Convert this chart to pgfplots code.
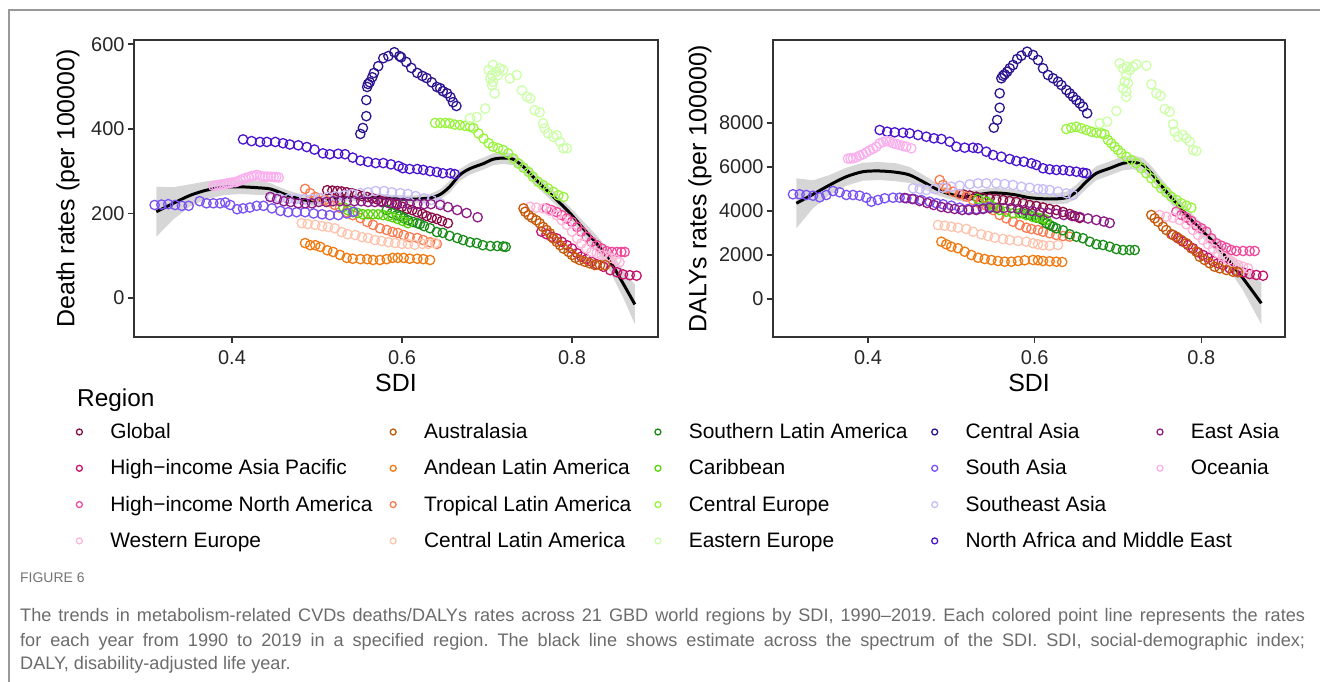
\documentclass[border=0pt]{standalone}
\usepackage{fontspec}
\setmainfont{Liberation Sans}
\usepackage{pgfplots}
\pgfplotsset{compat=1.18}
\frenchspacing
\definecolor{cGL}{HTML}{8B0D45}
\definecolor{cHIAP}{HTML}{C4136A}
\definecolor{cHINA}{HTML}{F0489B}
\definecolor{cWE}{HTML}{FFB6D9}
\definecolor{cAUS}{HTML}{C45A0A}
\definecolor{cAND}{HTML}{F07A10}
\definecolor{cTRO}{HTML}{F97B4F}
\definecolor{cCLA}{HTML}{FFC4AE}
\definecolor{cSLA}{HTML}{1A8C1A}
\definecolor{cCAR}{HTML}{5AD20C}
\definecolor{cCE}{HTML}{9AF43F}
\definecolor{cEE}{HTML}{CCFFA8}
\definecolor{cCA}{HTML}{2E1590}
\definecolor{cSA}{HTML}{7A52F4}
\definecolor{cSEA}{HTML}{C8BCF8}
\definecolor{cNAME}{HTML}{4A14CF}
\definecolor{cEA}{HTML}{8B1C86}
\definecolor{cOCE}{HTML}{FBB0EE}
\pgfplotsset{
  pt/.style={only marks, mark=o, mark size=4.7pt, mark options={line width=1.3pt, solid}, color=#1},
  lg/.style={only marks, mark=o, mark size=3pt, mark options={line width=1.3pt}, color=#1},
  panel/.style={scale only axis, height=297bp, anchor=south west,
    axis line style={line width=2pt, draw=black!80},
    tick style={line width=1.6pt, draw=black!80},
    tick align=outside, tick pos=left, major tick length=6bp,
    ticklabel style={font=\fontsize{20}{24}\selectfont, text=black!85},
    xticklabel style={yshift=-4bp},
    /pgf/number format/assume math mode=true, /pgf/number format/1000 sep={},
    scaled ticks=false,
    xtick={0.4,0.6,0.8}, xticklabels={0.4,0.6,0.8},
    label style={font=\fontsize{25}{30}\selectfont},
    xlabel={SDI},
    xlabel style={at={(axis description cs:0.5,0)}, anchor=center, yshift=-46bp},
  },
  band/.style={draw=none, fill=black!40, fill opacity=0.4},
  fit/.style={black, line width=3pt, smooth, tension=0.5},
}
\begin{document}
\begin{tikzpicture}
\path[use as bounding box] (0,0) rectangle (1320bp,682bp);
\draw[black!40, line width=1.2pt] (9bp,0bp) -- (9bp,672bp) -- (1320bp,672bp);

% ---------------- LEFT PANEL ----------------
\begin{axis}[panel, at={(134bp,345bp)}, width=524bp,
  xmin=0.2847, xmax=0.9012, ymin=-92, ymax=610, ytick={0,200,400,600},
  ylabel={Death rates (per 100000)},
  ylabel style={at={(axis description cs:-0.126,0.5)}, anchor=center}]
\addplot[pt=cGL] coordinates {(0.512,255)(0.518,254)(0.524,253)(0.529,252)(0.535,250)(0.541,248)(0.547,245)(0.553,241)(0.559,239)(0.565,236)(0.571,233)(0.576,229)(0.582,227)(0.588,224)(0.594,221)(0.600,216)(0.606,211)(0.612,208)(0.618,203)(0.624,199)(0.629,194)(0.635,190)(0.641,187)(0.647,182)(0.654,177)};
\addplot[pt=cHIAP] coordinates {(0.764,157)(0.770,151)(0.776,145)(0.782,141)(0.788,133)(0.794,125)(0.800,117)(0.806,106)(0.811,98)(0.817,92)(0.823,86)(0.829,80)(0.837,74)(0.845,66)(0.853,61)(0.860,56)(0.868,54)(0.876,53)};
\addplot[pt=cHINA] coordinates {(0.770,212)(0.776,208)(0.782,203)(0.788,196)(0.794,188)(0.800,180)(0.806,168)(0.811,157)(0.817,145)(0.823,133)(0.829,125)(0.835,117)(0.841,111)(0.847,109)(0.853,109)(0.858,109)(0.862,109)};
\addplot[pt=cWE] coordinates {(0.751,216)(0.758,214)(0.766,212)(0.774,206)(0.782,196)(0.788,184)(0.794,173)(0.800,157)(0.806,141)(0.811,129)(0.817,117)(0.823,109)(0.829,106)(0.835,102)(0.841,98)(0.846,95)(0.852,90)(0.856,85)};
\addplot[pt=cAUS] coordinates {(0.743,212)(0.745,204)(0.749,196)(0.753,190)(0.758,184)(0.762,177)(0.766,168)(0.770,161)(0.774,153)(0.778,141)(0.782,133)(0.786,125)(0.790,117)(0.796,109)(0.800,102)(0.804,95)(0.809,90)(0.815,86)(0.821,82)(0.827,78)(0.833,78)(0.839,78)};
\addplot[pt=cAND] coordinates {(0.486,130)(0.492,125)(0.498,125)(0.504,121)(0.512,113)(0.519,109)(0.527,102)(0.535,95)(0.542,93)(0.551,92)(0.559,92)(0.566,90)(0.574,90)(0.582,92)(0.589,95)(0.595,95)(0.602,95)(0.609,93)(0.618,93)(0.625,92)(0.633,90)};
\addplot[pt=cTRO] coordinates {(0.486,258)(0.492,248)(0.498,239)(0.504,236)(0.509,232)(0.515,227)(0.521,220)(0.527,213)(0.535,203)(0.542,196)(0.551,189)(0.559,180)(0.566,173)(0.574,165)(0.582,161)(0.589,156)(0.595,154)(0.602,149)(0.609,144)(0.618,142)(0.625,137)(0.633,132)(0.641,128)};
\addplot[pt=cCLA] coordinates {(0.482,177)(0.489,175)(0.498,173)(0.506,170)(0.513,168)(0.521,165)(0.529,156)(0.536,151)(0.545,149)(0.553,144)(0.560,142)(0.568,137)(0.576,135)(0.584,132)(0.592,130)(0.600,128)(0.607,128)(0.615,126)(0.624,128)(0.631,128)(0.639,130)};
\addplot[pt=cSLA] coordinates {(0.582,208)(0.588,201)(0.594,196)(0.598,194)(0.602,189)(0.607,184)(0.613,180)(0.618,177)(0.621,175)(0.626,170)(0.633,165)(0.641,156)(0.648,154)(0.656,147)(0.665,142)(0.672,137)(0.680,132)(0.688,130)(0.695,125)(0.704,123)(0.712,123)(0.719,122)(0.722,121)};
\addplot[pt=cCAR] coordinates {(0.531,215)(0.536,208)(0.542,203)(0.548,201)(0.554,198)(0.560,198)(0.566,198)(0.572,198)(0.578,196)(0.584,194)(0.589,191)(0.595,187)(0.601,182)(0.607,177)};
\addplot[pt=cCE] coordinates {(0.639,414)(0.645,414)(0.651,414)(0.656,413)(0.662,410)(0.668,409)(0.674,407)(0.680,405)(0.684,402)(0.690,389)(0.696,377)(0.702,366)(0.707,358)(0.713,354)(0.719,350)(0.725,342)(0.731,330)(0.737,318)(0.743,308)(0.749,298)(0.754,287)(0.760,275)(0.766,267)(0.772,259)(0.778,251)(0.784,243)(0.790,239)};
\addplot[pt=cEE] coordinates {(0.680,425)(0.688,428)(0.698,448)(0.702,539)(0.704,519)(0.706,503)(0.709,484)(0.711,535)(0.715,543)(0.719,539)(0.707,511)(0.706,527)(0.707,551)(0.713,527)(0.727,519)(0.735,527)(0.741,491)(0.747,476)(0.751,472)(0.756,444)(0.762,439)(0.766,413)(0.768,401)(0.772,389)(0.778,381)(0.782,385)(0.786,369)(0.790,354)(0.794,354)};
\addplot[pt=cCA] coordinates {(0.551,388)(0.554,402)(0.558,430)(0.558,468)(0.559,499)(0.560,506)(0.562,510)(0.565,522)(0.567,532)(0.572,548)(0.578,567)(0.584,572)(0.591,581)(0.597,572)(0.599,569)(0.605,558)(0.611,544)(0.618,532)(0.624,525)(0.629,520)(0.635,510)(0.641,499)(0.645,496)(0.648,489)(0.653,484)(0.657,475)(0.660,463)(0.664,454)};
\addplot[pt=cSA] coordinates {(0.309,220)(0.317,221)(0.325,222)(0.333,220)(0.341,218)(0.349,218)(0.362,229)(0.370,224)(0.378,224)(0.386,224)(0.392,226)(0.398,220)(0.406,210)(0.413,212)(0.421,214)(0.429,218)(0.437,218)(0.447,212)(0.457,206)(0.466,203)(0.476,203)(0.486,203)(0.496,200)(0.506,198)(0.515,196)(0.525,196)(0.535,200)(0.543,204)};
\addplot[pt=cSEA] coordinates {(0.447,239)(0.456,236)(0.466,234)(0.475,234)(0.485,234)(0.494,234)(0.504,236)(0.513,239)(0.522,241)(0.532,243)(0.541,246)(0.551,248)(0.560,250)(0.569,253)(0.579,253)(0.588,250)(0.598,248)(0.607,246)(0.616,241)(0.626,236)(0.635,232)(0.645,224)};
\addplot[pt=cNAME] coordinates {(0.413,375)(0.423,371)(0.433,369)(0.441,369)(0.451,369)(0.460,366)(0.468,363)(0.478,361)(0.488,357)(0.497,351)(0.507,342)(0.515,340)(0.525,341)(0.533,340)(0.542,332)(0.551,325)(0.560,322)(0.569,319)(0.578,319)(0.587,316)(0.596,312)(0.601,307)(0.609,305)(0.618,305)(0.625,303)(0.633,300)(0.641,298)(0.648,295)(0.657,295)(0.662,293)};
\addplot[pt=cEA] coordinates {(0.445,239)(0.453,234)(0.461,229)(0.469,227)(0.478,224)(0.486,224)(0.494,224)(0.502,227)(0.511,227)(0.519,229)(0.527,229)(0.535,229)(0.544,229)(0.552,229)(0.560,227)(0.568,227)(0.576,227)(0.585,224)(0.593,224)(0.601,224)(0.609,222)(0.618,222)(0.626,222)(0.634,222)(0.645,220)(0.654,215)(0.665,208)(0.676,201)(0.689,191)};
\addplot[pt=cOCE] coordinates {(0.378,265)(0.381,266)(0.384,267)(0.387,268)(0.391,269)(0.394,271)(0.397,272)(0.400,273)(0.404,274)(0.407,276)(0.410,279)(0.413,281)(0.416,284)(0.420,286)(0.423,288)(0.426,289)(0.429,291)(0.433,289)(0.436,287)(0.439,287)(0.442,287)(0.446,287)(0.449,286)(0.452,286)(0.455,285)};
% smoothing band and line
\addplot[band] coordinates {(0.311,263)(0.331,262)(0.351,269)(0.370,276)(0.390,281)(0.409,280)(0.429,278)(0.445,272)(0.456,262)(0.468,253)(0.480,246)(0.492,242)(0.504,242)(0.515,245)(0.527,246)(0.539,247)(0.554,247)(0.570,247)(0.586,244)(0.602,243)(0.617,243)(0.633,246)(0.645,257)(0.656,277)(0.668,305)(0.680,320)(0.696,332)(0.707,342)(0.719,345)(0.731,342)(0.743,324)(0.754,301)(0.766,277)(0.782,246)(0.798,214)(0.813,182)(0.829,148)(0.845,110)(0.860,68)(0.874,32)
 (0.874,-62)(0.860,2)(0.845,62)(0.829,110)(0.813,148)(0.798,186)(0.782,218)(0.766,249)(0.754,273)(0.743,296)(0.731,314)(0.719,317)(0.707,314)(0.696,304)(0.680,292)(0.668,277)(0.656,249)(0.645,233)(0.633,228)(0.617,225)(0.602,225)(0.586,226)(0.570,229)(0.554,229)(0.539,229)(0.527,228)(0.515,221)(0.504,218)(0.492,218)(0.480,222)(0.468,229)(0.456,238)(0.445,244)(0.429,244)(0.409,246)(0.390,243)(0.370,234)(0.351,217)(0.331,186)(0.311,145)} -- cycle;
\addplot[fit] coordinates {(0.311,204)(0.331,224)(0.351,243)(0.370,255)(0.390,262)(0.409,263)(0.429,261)(0.445,258)(0.456,250)(0.468,241)(0.480,234)(0.492,230)(0.504,230)(0.515,233)(0.527,237)(0.539,238)(0.554,238)(0.570,238)(0.586,235)(0.602,234)(0.617,234)(0.633,237)(0.645,245)(0.656,263)(0.668,291)(0.680,306)(0.696,318)(0.707,328)(0.719,331)(0.731,328)(0.743,310)(0.754,287)(0.766,263)(0.782,232)(0.798,200)(0.813,165)(0.829,129)(0.845,86)(0.860,35)(0.874,-15)};
\end{axis}

% ---------------- RIGHT PANEL ----------------
\begin{axis}[panel, at={(773bp,345bp)}, width=512bp,
  xmin=0.286, xmax=0.9004, ymin=-1727, ymax=11772, ytick={0,2000,4000,6000,8000},
  ylabel={DALYs rates (per 100000)},
  ylabel style={at={(axis description cs:-0.1426,0.5)}, anchor=center}]
\addplot[pt=cGL] coordinates {(0.514,4759)(0.522,4704)(0.530,4650)(0.538,4590)(0.546,4568)(0.554,4531)(0.562,4500)(0.570,4454)(0.578,4409)(0.586,4350)(0.594,4272)(0.602,4227)(0.610,4159)(0.618,4091)(0.626,4045)(0.634,3954)(0.642,3863)(0.648,3770)(0.654,3681)};
\addplot[pt=cHIAP] coordinates {(0.766,2909)(0.772,2759)(0.778,2604)(0.784,2454)(0.790,2304)(0.796,2122)(0.802,2000)(0.808,1877)(0.814,1727)(0.820,1623)(0.826,1545)(0.834,1395)(0.842,1273)(0.850,1214)(0.858,1136)(0.866,1091)(0.874,1059)};
\addplot[pt=cHINA] coordinates {(0.770,3968)(0.776,3818)(0.782,3695)(0.788,3545)(0.794,3332)(0.800,3213)(0.806,3059)(0.812,2759)(0.818,2532)(0.824,2422)(0.830,2332)(0.836,2227)(0.842,2182)(0.850,2182)(0.858,2182)(0.864,2182)};
\addplot[pt=cWE] coordinates {(0.750,3818)(0.758,3740)(0.766,3695)(0.774,3591)(0.782,3395)(0.790,3136)(0.796,2909)(0.802,2682)(0.808,2486)(0.814,2273)(0.820,2077)(0.826,1923)(0.832,1773)(0.838,1668)(0.844,1545)(0.850,1468)(0.856,1395)};
\addplot[pt=cAUS] coordinates {(0.740,3818)(0.744,3668)(0.748,3513)(0.754,3286)(0.758,3136)(0.764,2941)(0.770,2832)(0.776,2682)(0.782,2532)(0.788,2304)(0.794,2150)(0.798,1923)(0.804,1773)(0.810,1623)(0.816,1468)(0.822,1395)(0.830,1318)(0.838,1241)(0.844,1214)};
\addplot[pt=cAND] coordinates {(0.488,2604)(0.494,2486)(0.500,2377)(0.508,2304)(0.516,2150)(0.524,2000)(0.532,1877)(0.540,1818)(0.548,1773)(0.556,1727)(0.564,1695)(0.572,1695)(0.580,1727)(0.588,1759)(0.598,1773)(0.604,1759)(0.610,1727)(0.618,1713)(0.626,1695)(0.633,1682)};
\addplot[pt=cTRO] coordinates {(0.486,5409)(0.490,5181)(0.494,5031)(0.502,4877)(0.510,4759)(0.518,4650)(0.526,4500)(0.534,4350)(0.542,4240)(0.550,4045)(0.558,3818)(0.566,3668)(0.574,3513)(0.582,3363)(0.590,3241)(0.596,3182)(0.604,3136)(0.610,3059)(0.618,2986)(0.626,2909)(0.634,2863)(0.642,2832)};
\addplot[pt=cCLA] coordinates {(0.484,3363)(0.492,3332)(0.500,3286)(0.508,3241)(0.518,3182)(0.526,3059)(0.536,2941)(0.544,2863)(0.552,2786)(0.562,2727)(0.570,2682)(0.580,2636)(0.590,2604)(0.598,2532)(0.604,2486)(0.610,2441)(0.618,2422)(0.628,2454)};
\addplot[pt=cSLA] coordinates {(0.586,3895)(0.594,3818)(0.602,3695)(0.606,3668)(0.610,3591)(0.614,3441)(0.618,3363)(0.622,3286)(0.626,3213)(0.634,3122)(0.642,2941)(0.650,2832)(0.658,2759)(0.666,2604)(0.674,2486)(0.682,2454)(0.690,2377)(0.698,2273)(0.706,2227)(0.714,2227)(0.720,2227)};
\addplot[pt=cCAR] coordinates {(0.532,4545)(0.542,4422)(0.546,4318)(0.550,4195)(0.554,4122)(0.558,4045)(0.566,3968)(0.574,3895)(0.582,3895)(0.590,3818)(0.598,3727)(0.604,3695)(0.610,3668)(0.614,3591)};
\addplot[pt=cCE] coordinates {(0.638,7727)(0.644,7786)(0.650,7831)(0.656,7758)(0.662,7681)(0.668,7604)(0.674,7558)(0.680,7531)(0.684,7486)(0.688,7227)(0.692,7077)(0.696,6922)(0.700,6772)(0.704,6622)(0.710,6467)(0.716,6318)(0.722,6168)(0.728,5940)(0.734,5713)(0.740,5486)(0.746,5259)(0.752,5031)(0.758,4850)(0.764,4650)(0.770,4500)(0.776,4350)(0.782,4240)(0.788,4150)};
\addplot[pt=cEE] coordinates {(0.678,7986)(0.687,8058)(0.698,8545)(0.702,10713)(0.706,10485)(0.710,10558)(0.714,10408)(0.718,10558)(0.722,10667)(0.734,10604)(0.710,10181)(0.708,9876)(0.712,9804)(0.706,9576)(0.710,9422)(0.710,9195)(0.740,9758)(0.746,9349)(0.751,9240)(0.756,8636)(0.762,8513)(0.766,7940)(0.768,7604)(0.772,7376)(0.778,7454)(0.782,7304)(0.786,7149)(0.790,6772)(0.794,6727)};
\addplot[pt=cCA] coordinates {(0.551,7786)(0.555,8136)(0.558,8694)(0.558,9349)(0.560,10031)(0.562,10149)(0.564,10213)(0.567,10331)(0.570,10485)(0.574,10635)(0.579,10908)(0.584,11058)(0.591,11240)(0.598,11090)(0.604,10863)(0.610,10485)(0.616,10181)(0.622,10031)(0.628,9876)(0.632,9726)(0.638,9499)(0.642,9349)(0.646,9195)(0.650,9045)(0.654,8895)(0.658,8740)(0.663,8440)};
\addplot[pt=cSA] coordinates {(0.310,4759)(0.318,4759)(0.326,4727)(0.334,4695)(0.342,4622)(0.350,4727)(0.358,4909)(0.366,4850)(0.374,4727)(0.382,4727)(0.390,4695)(0.398,4604)(0.404,4422)(0.412,4500)(0.420,4577)(0.430,4604)(0.438,4604)(0.446,4577)(0.455,4545)(0.464,4500)(0.474,4422)(0.482,4350)(0.490,4304)(0.500,4240)(0.510,4150)(0.520,4091)(0.530,4091)(0.538,4122)(0.546,4181)};
\addplot[pt=cSEA] coordinates {(0.454,5031)(0.462,5000)(0.470,4954)(0.480,5000)(0.490,5059)(0.500,5104)(0.510,5150)(0.522,5213)(0.532,5259)(0.542,5259)(0.554,5259)(0.564,5227)(0.574,5181)(0.584,5104)(0.594,5059)(0.604,5000)(0.610,4986)(0.618,4954)(0.628,4877)(0.638,4804)(0.646,4727)};
\addplot[pt=cNAME] coordinates {(0.414,7681)(0.423,7604)(0.432,7576)(0.442,7558)(0.450,7531)(0.460,7454)(0.470,7376)(0.479,7304)(0.488,7272)(0.498,7149)(0.506,6922)(0.516,6877)(0.526,6877)(0.532,6849)(0.542,6695)(0.550,6545)(0.560,6467)(0.570,6363)(0.578,6272)(0.587,6240)(0.596,6168)(0.602,6090)(0.610,5940)(0.618,5895)(0.626,5863)(0.634,5863)(0.642,5818)(0.650,5786)(0.658,5740)(0.662,5713)};
\addplot[pt=cEA] coordinates {(0.444,4590)(0.453,4545)(0.462,4454)(0.471,4363)(0.479,4272)(0.488,4181)(0.496,4136)(0.504,4091)(0.513,4045)(0.521,4045)(0.530,4045)(0.538,4091)(0.546,4136)(0.555,4136)(0.563,4136)(0.572,4136)(0.580,4091)(0.588,4045)(0.597,4000)(0.606,3954)(0.616,3909)(0.626,3863)(0.635,3818)(0.645,3772)(0.654,3727)(0.664,3659)(0.674,3591)(0.683,3522)(0.690,3454)};
\addplot[pt=cOCE] coordinates {(0.376,6380)(0.379,6390)(0.382,6395)(0.386,6440)(0.390,6513)(0.394,6577)(0.398,6668)(0.402,6758)(0.406,6831)(0.410,6922)(0.414,7077)(0.418,7136)(0.422,7181)(0.426,7149)(0.430,7077)(0.434,7045)(0.438,7000)(0.442,6954)(0.446,6922)(0.452,6849)};
\addplot[band] coordinates {(0.314,5486)(0.334,5395)(0.354,5636)(0.374,5968)(0.394,6195)(0.414,6227)(0.434,6168)(0.450,6000)(0.466,5649)(0.482,5273)(0.498,4999)(0.514,4877)(0.530,4954)(0.546,5045)(0.562,5031)(0.578,4954)(0.594,4831)(0.618,4772)(0.638,4877)(0.650,5195)(0.662,5649)(0.674,6031)(0.690,6258)(0.706,6486)(0.718,6531)(0.730,6408)(0.742,5954)(0.754,5377)(0.770,4668)(0.786,3986)(0.802,3377)(0.818,2772)(0.834,2104)(0.850,1486)(0.872,760)
 (0.872,-1150)(0.850,396)(0.834,1286)(0.818,2136)(0.802,2741)(0.786,3350)(0.770,4032)(0.754,4741)(0.742,5318)(0.730,5772)(0.718,5895)(0.706,5850)(0.690,5622)(0.674,5395)(0.662,5013)(0.650,4559)(0.638,4331)(0.618,4318)(0.594,4377)(0.578,4500)(0.562,4577)(0.546,4591)(0.530,4500)(0.514,4423)(0.498,4545)(0.482,4727)(0.466,5013)(0.450,5272)(0.434,5350)(0.414,5409)(0.394,5377)(0.374,5150)(0.354,4726)(0.334,4123)(0.314,3214)} -- cycle;
\addplot[fit] coordinates {(0.314,4350)(0.334,4759)(0.354,5181)(0.374,5559)(0.394,5786)(0.414,5818)(0.434,5759)(0.450,5636)(0.466,5331)(0.482,5000)(0.498,4772)(0.514,4650)(0.530,4727)(0.546,4818)(0.562,4804)(0.578,4727)(0.594,4604)(0.618,4545)(0.638,4604)(0.650,4877)(0.662,5331)(0.674,5713)(0.690,5940)(0.706,6168)(0.718,6213)(0.730,6090)(0.742,5636)(0.754,5059)(0.770,4350)(0.786,3668)(0.802,3059)(0.818,2454)(0.834,1695)(0.850,941)(0.872,-195)};
\end{axis}

% ---------------- LEGEND ----------------
\begin{axis}[at={(0bp,0bp)}, anchor=south west, scale only axis, width=1320bp, height=682bp,
  hide axis, xmin=0, xmax=1, ymin=0, ymax=1,
  legend columns=5, legend cell align=left,
  legend style={at={(0.05788,0.38196)}, anchor=north west, draw=none, fill=none,
    inner sep=0pt, outer sep=0pt, font=\fontsize{21}{25}\selectfont, row sep=15.3bp,
    nodes={inner sep=0pt, text height=17bp, text depth=4bp},
    /tikz/every odd column/.append style={column sep=27.9bp}}]
\addlegendimage{lg=cGL}\addlegendentry{\makebox[279.9bp][l]{Global}}
\addlegendimage{lg=cAUS}\addlegendentry{\makebox[230.9bp][l]{Australasia}}
\addlegendimage{lg=cSLA}\addlegendentry{\makebox[242.9bp][l]{Southern Latin America}}
\addlegendimage{lg=cCA}\addlegendentry{\makebox[185.9bp][l]{Central Asia}}
\addlegendimage{lg=cEA}\addlegendentry{\makebox[100bp][l]{East Asia}}
\addlegendimage{lg=cHIAP}\addlegendentry{\makebox[279.9bp][l]{High−income Asia Pacific}}
\addlegendimage{lg=cAND}\addlegendentry{\makebox[230.9bp][l]{Andean Latin America}}
\addlegendimage{lg=cCAR}\addlegendentry{\makebox[242.9bp][l]{Caribbean}}
\addlegendimage{lg=cSA}\addlegendentry{\makebox[185.9bp][l]{South Asia}}
\addlegendimage{lg=cOCE}\addlegendentry{\makebox[100bp][l]{Oceania}}
\addlegendimage{lg=cHINA}\addlegendentry{\makebox[279.9bp][l]{High−income North America}}
\addlegendimage{lg=cTRO}\addlegendentry{\makebox[230.9bp][l]{Tropical Latin America}}
\addlegendimage{lg=cCE}\addlegendentry{\makebox[242.9bp][l]{Central Europe}}
\addlegendimage{lg=cSEA}\addlegendentry{\makebox[185.9bp][l]{Southeast Asia}}
\addlegendimage{empty legend}\addlegendentry{\makebox[100bp][l]{}}
\addlegendimage{lg=cWE}\addlegendentry{\makebox[279.9bp][l]{Western Europe}}
\addlegendimage{lg=cCLA}\addlegendentry{\makebox[230.9bp][l]{Central Latin America}}
\addlegendimage{lg=cEE}\addlegendentry{\makebox[242.9bp][l]{Eastern Europe}}
\addlegendimage{lg=cNAME}\addlegendentry{\makebox[185.9bp][l]{North Africa and Middle East}}
\end{axis}

\node[anchor=base west, inner sep=0pt, font=\fontsize{24.5}{28}\selectfont] at (77bp,275.2bp) {Region};

% ---------------- CAPTION ----------------
\node[anchor=base west, inner sep=0pt, font=\fontsize{14}{16}\selectfont, text=black!55] at (20bp,99bp) {FIGURE 6};
\node[anchor=base west, inner sep=0pt, font=\fontsize{18.2}{20}\selectfont, text=black!58] at (20bp,60bp) {\makebox[1285bp][s]{The trends in metabolism-related CVDs deaths/DALYs rates across 21 GBD world regions by SDI, 1990–2019. Each colored point line represents the rates}};
\node[anchor=base west, inner sep=0pt, font=\fontsize{18.2}{20}\selectfont, text=black!58] at (20bp,36bp) {\makebox[1285bp][s]{for each year from 1990 to 2019 in a specified region. The black line shows estimate across the spectrum of the SDI. SDI, social-demographic index;}};
\node[anchor=base west, inner sep=0pt, font=\fontsize{18.2}{20}\selectfont, text=black!58] at (20bp,13bp) {DALY, disability-adjusted life year.};
\end{tikzpicture}
\end{document}
